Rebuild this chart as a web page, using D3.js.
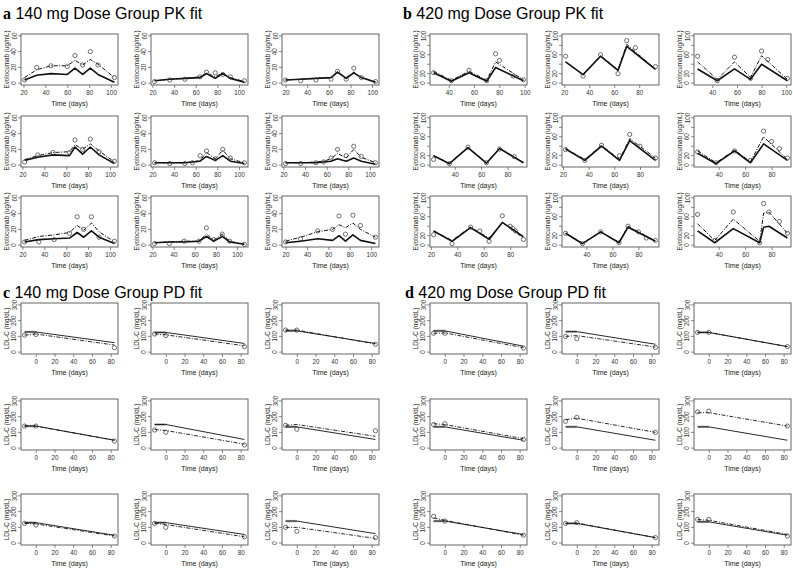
<!DOCTYPE html>
<html><head><meta charset="utf-8">
<script src="https://cdn.jsdelivr.net/npm/d3@7"></script>
<style>
body{margin:0;background:#fff}
svg{display:block}
text{font-family:"Liberation Sans",Arial,sans-serif}
</style>
</head><body>
<svg id="chart" width="793" height="577"></svg>
<script>
// ---------- Section a: 140 mg PK ----------
const aLineT = [
  [21,32,45,60,67,74,81,88,103],
  [22,36,50,64,70,78,85,92,105],
  [20,34,48,62,68,76,83,90,103],
  [22,34,48,63,68,75,82,90,104],
  [22,36,50,57,64,70,78,85,92,105],
  [22,36,50,57,64,70,78,85,92,105],
  [22,35,49,63,70,76,83,90,104],
  [22,36,50,64,71,78,86,93,107],
  [20,34,50,64,70,76,83,90,104]
];
const aInd = [
  [7,17,22,22,29,23,30,24,7],
  [3,5,6,8,13,8,13,7,2],
  [4,5,6,7,14,7,14,7,2],
  [7,12,16,17,26,20,27,18,4],
  [3,3,3,4,6,16,8,19,8,3],
  [3,3,4,5,8,15,9,20,10,3],
  [6,11,13,16,25,19,28,17,4],
  [3,4,5,5,14,6,14,5,1],
  [5,10,17,20,26,22,28,20,10]
];
const aPop = [
  [4,10,12,11,19,11,19,11,1],
  [3,5,6,7,12,6,12,6,1],
  [4,5,6,7,14,6,13,7,1],
  [6,10,13,12,23,14,23,13,2],
  [3,3,3,4,5,11,6,12,5,2],
  [3,3,3,4,5,8,5,9,5,1],
  [4,7,8,9,16,10,18,10,2],
  [3,4,4,5,11,5,11,4,1],
  [3,5,8,6,12,5,13,6,2]
];
const aObsT = aLineT;
const aObs = [
  [4,20,22,21,35,23,40,23,7],
  [2,4,5,8,14,13,11,8,3],
  [4,3,4,5,15,5,19,7,2],
  [4,13,16,16,32,20,33,17,5],
  [3,2,2,3,12,18,8,20,9,3],
  [2,2,3,4,9,20,12,24,11,3],
  [4,4,7,15,36,20,36,10,5],
  [2,2,5,5,22,7,14,5,1],
  [4,8,18,20,37,14,38,25,10]
];

// ---------- Section b: 420 mg PK ----------
const bLineT = [
  [28,42,56,70,77,99],
  [21,35,49,63,70,93],
  [28,44,58,71,80,101],
  [24,36,50,64,74,92],
  [22,37,50,64,72,92],
  [24,38,52,64,74,92],
  [22,36,50,64,74,90],
  [24,37,51,65,72,93],
  [24,37,51,71,74,78,92]
];
const bInd = [
  [25,6,25,6,45,7],
  [45,18,58,28,82,30],
  [45,8,45,12,58,8],
  [20,4,38,5,36,6],
  [35,12,42,12,56,15],
  [30,5,32,7,60,12],
  [30,10,38,15,48,15],
  [25,4,28,6,40,9],
  [45,10,55,8,68,70,25]
];
const bPop = [
  [22,4,22,4,33,5],
  [45,18,57,27,78,29],
  [30,5,30,8,40,5],
  [20,3,37,4,35,5],
  [34,10,40,10,52,10],
  [25,3,30,5,45,10],
  [30,8,37,12,48,18],
  [25,3,28,5,38,8],
  [30,5,35,5,38,40,15]
];
const bObsT = [
  [28,42,56,70,77,80,91,99],
  [21,35,49,63,70,77,93],
  [28,44,58,71,80,85,101],
  [24,36,50,64,74,85],
  [22,37,50,64,72,80,92],
  [24,38,52,64,74,80,86,92],
  [22,36,50,57,64,74,80,82,84,90],
  [24,37,51,65,72,80,86,93],
  [24,37,51,71,74,78,86,92]
];
const bObs = [
  [22,5,27,5,62,48,15,7],
  [57,15,60,20,90,75,35],
  [57,5,55,10,68,50,10],
  [12,3,38,5,34,18],
  [33,10,42,20,65,40,15],
  [28,5,30,10,72,50,35,15],
  [22,3,38,30,8,62,40,35,30,12],
  [25,3,28,5,40,28,15,10],
  [65,10,70,5,88,70,50,25]
];

// ---------- Sections c, d: PD (LDL-C) ----------
const pdTime = [-12, 0, 84];
const cObs = [[108,112,28],[115,105,35],[140,140,50],[140,140,45],[115,100,20],[145,120,110],[125,115,45],[125,100,40],[100,75,35]];
const cInd = [[108,115,45],[115,110,40],[140,140,52],[142,140,50],[118,112,25],[145,150,75],[125,122,45],[125,118,40],[100,100,30]];
const cPop = [[128,128,60],[125,125,55],[135,135,55],[140,140,50],[150,150,55],[135,135,55],[130,130,50],[130,130,55],[140,140,60]];
const dObs = [[120,120,25],[100,85,30],[125,125,35],[150,155,55],[170,195,100],[230,235,140],[170,140,50],[125,130,35],[150,150,45]];
const dInd = [[120,122,28],[100,105,32],[125,125,35],[155,150,60],[180,190,100],[225,225,140],[160,145,50],[125,128,35],[150,145,55]];
const dPop = [[135,135,38],[130,130,50],[125,125,35],[135,135,50],[135,135,50],[135,135,50],[140,140,55],[125,125,35],[135,135,50]];

// ---------- ticks & labels ----------
const pkXTicks = [0,20,40,60,80,100];
const aYTicks = [0,20,40,60];
const bYTicks = [0,20,40,60,80,100];
const bYLabels = ["0","20","","60","","100"];
const pdXTicks = [0,20,40,60,80];
const pdYTicks = [0,100,200,300];
const titles = [
  {letter:"a", text:" 140 mg Dose Group PK fit"},
  {letter:"b", text:" 420 mg Dose Group PK fit"},
  {letter:"c", text:" 140 mg Dose Group PD fit"},
  {letter:"d", text:" 420 mg Dose Group PD fit"}
];

// ---------- layout ----------
const svg = d3.select("#chart");
const W = 97, H = 51;
const leftL = [21,151,282], leftR = [430,562,694];
const topTop = [34,116,196], topBot = [303,399,494];

function pad(ext){ const d = (ext[1]-ext[0])*0.04; return [ext[0]-d, ext[1]+d]; }

function drawPanel(x0, y0, o){
  const g = svg.append("g").attr("transform", `translate(${x0},${y0})`);
  const allT = o.lines.flatMap(l=>l.t).concat(o.obsT);
  const x = d3.scaleLinear().domain(pad(d3.extent(allT))).range([0,W]);
  const y = d3.scaleLinear().domain(pad(o.ylim)).range([H,0]);
  const xt = o.xTicks.filter(v => v>=x.domain()[0] && v<=x.domain()[1]);
  const xa = d3.axisBottom(x).tickValues(xt).tickSize(3).tickPadding(3).tickFormat(d3.format("d"));
  const gx = g.append("g").attr("transform",`translate(0,${H})`).call(xa);
  const ya = d3.axisLeft(y).tickValues(o.yTicks).tickSize(3).tickPadding(2)
      .tickFormat((d,i)=> o.yLabels ? o.yLabels[i] : d);
  const gy = g.append("g").call(ya);
  [gx,gy].forEach(a=>{
    a.select(".domain").remove();
    a.selectAll("line").attr("stroke","#555").attr("stroke-width",0.7);
    a.selectAll("text").attr("font-size",6.3).attr("fill","#333");
  });
  gy.selectAll("text").attr("transform", d=>`rotate(-90,${-4.5},${y(d)})`)
    .attr("text-anchor","middle").attr("x",-4.5).attr("dy","0em").attr("y", d=>y(d));
  gy.selectAll(".tick").attr("transform",null);
  gy.selectAll(".tick line").attr("y1",d=>y(d)).attr("y2",d=>y(d));
  // box
  g.append("rect").attr("width",W).attr("height",H).attr("fill","none").attr("stroke","#555").attr("stroke-width",0.9);
  // lines
  const line = d3.line().x(d=>x(d[0])).y(d=>y(d[1]));
  if (o.grayStart){
    const p = o.lines[0];
    g.append("path").attr("d", line([[p.t[0],p.v[0]],[p.t[1],p.v[1]]]))
      .attr("fill","none").attr("stroke","#aaa").attr("stroke-width",2.4);
  }
  o.lines.forEach(l=>{
    g.append("path").attr("d", line(l.t.map((t,i)=>[t,l.v[i]])))
      .attr("fill","none").attr("stroke","#111")
      .attr("stroke-width", l.w).attr("stroke-dasharray", l.dash||null)
      .attr("stroke-linejoin","round");
  });
  g.selectAll("circle.obs").data(o.obsT.map((t,i)=>[t,o.obsV[i]])).join("circle")
    .attr("cx",d=>x(d[0])).attr("cy",d=>y(d[1])).attr("r",2.1)
    .attr("fill","none").attr("stroke","#333").attr("stroke-width",0.7);
  // axis titles
  g.append("text").attr("x",W/2).attr("y",H+21).attr("text-anchor","middle")
    .attr("font-size",7).attr("fill","#222").text("Time (days)");
  g.append("text").attr("transform",`translate(${-12.5},${H/2}) rotate(-90)`)
    .attr("text-anchor","middle").attr("font-size",6.3).attr("fill","#222").text(o.ylab);
}

function pkSection(lefts, tops, lineT, ind, pop, obsT, obsV, ylim, yTicks, yLabels){
  for (let i=0;i<9;i++){
    const r = Math.floor(i/3), c = i%3;
    drawPanel(lefts[c], tops[r], {
      lines:[{t:lineT[i], v:ind[i], w:1, dash:"4,1.5,1,1.5"},{t:lineT[i], v:pop[i], w:1.6}],
      obsT: obsT[i], obsV: obsV[i], ylim, yTicks, yLabels, xTicks: pkXTicks,
      ylab: "Evolocumab (ug/mL)"
    });
  }
}
function pdSection(lefts, tops, obs, ind, pop){
  for (let i=0;i<9;i++){
    const r = Math.floor(i/3), c = i%3;
    drawPanel(lefts[c], tops[r], {
      lines:[{t:pdTime, v:pop[i], w:0.9},{t:pdTime, v:ind[i], w:0.9, dash:"4,1.5,1,1.5"}],
      grayStart:true,
      obsT: pdTime, obsV: obs[i], ylim:[0,300], yTicks: pdYTicks, xTicks: pdXTicks,
      ylab: "LDL-C (mg/dL)"
    });
  }
}

pkSection(leftL, topTop, aLineT, aInd, aPop, aObsT, aObs, [0,60], aYTicks, null);
pkSection(leftR, topTop, bLineT, bInd, bPop, bObsT, bObs, [0,100], bYTicks, bYLabels);
pdSection(leftL, topBot, cObs, cInd, cPop);
pdSection(leftR, topBot, dObs, dInd, dPop);

// titles
const tpos = [[3,19],[403,19],[3,298],[405,298]];
titles.forEach((t,i)=>{
  const tx = svg.append("text").attr("x",tpos[i][0]).attr("y",tpos[i][1]).attr("font-size",16);
  tx.append("tspan").attr("font-family","Liberation Serif, Times New Roman, serif").attr("font-weight","bold").text(t.letter);
  tx.append("tspan").attr("font-family","Liberation Sans, Arial, sans-serif").text(t.text);
});
</script>
</body></html>
